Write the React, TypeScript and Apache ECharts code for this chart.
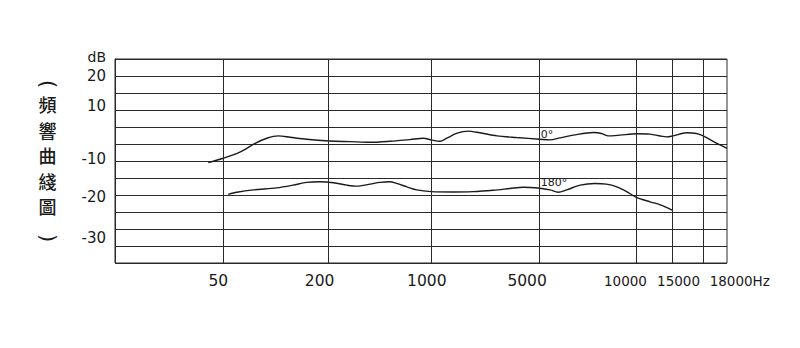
import React, { useEffect, useRef } from 'react';
import * as echarts from 'echarts';

// ---- data ----
// x axis: position along the (non-linear) frequency scale, 0..100 across the plot
const freqLabels = ['50', '200', '1000', '5000', '10000', '15000', '18000Hz'];
const freqGridPos = [17.7, 34.9, 51.6, 69.3, 85.2, 91.1, 96.2];

// y axis (dB), grid every 5 dB
const dbTickValues = [25, 20, 10, -5, -15, -30];
const dbTickLabels = ['dB', '20', '10', '-10', '-20', '-30'];

const curve0Pos = [15.25, 17.7, 20.4, 22.9, 24.8, 26.7, 28.6, 31.3, 35.0, 38.4, 41.7, 44.9, 48.2, 50.4, 51.7, 53.1, 54.2, 55.8, 57.7, 59.6, 62.4, 65.6, 69.4, 71.1, 72.7, 74.9, 78.2, 79.5, 80.6, 82.5, 85.2, 87.4, 90.1, 91.2, 93.4, 95.0, 96.1, 97.8, 100];
const curve0Db = [-5.5, -4.2, -2.4, 0.2, 1.7, 2.4, 2.0, 1.4, 0.9, 0.7, 0.5, 0.8, 1.3, 1.7, 1.2, 0.8, 1.7, 3.1, 3.8, 3.3, 2.4, 1.9, 1.4, 1.2, 1.8, 2.6, 3.4, 3.1, 2.4, 2.6, 3.0, 2.9, 2.1, 2.4, 3.3, 3.1, 2.4, 0.7, -1.3];

const curve180Pos = [18.5, 19.9, 22.6, 26.4, 29.1, 31.3, 33.5, 35.7, 37.9, 39.5, 41.7, 43.3, 44.9, 46.0, 47.7, 49.3, 51.7, 55.3, 58.5, 61.8, 64.5, 66.7, 69.4, 71.1, 72.4, 73.8, 76.0, 78.4, 80.3, 82.0, 83.6, 85.2, 87.4, 89.1, 91.1];
const curve180Db = [-14.8, -14.2, -13.5, -12.9, -12.1, -11.3, -11.1, -11.4, -12.1, -12.4, -11.8, -11.3, -11.1, -11.6, -12.6, -13.5, -14.0, -14.1, -14.0, -13.6, -13.1, -12.7, -13.0, -13.5, -14.2, -13.5, -12.1, -11.6, -11.8, -12.6, -14.0, -15.7, -17.0, -17.9, -19.5];

const curveNames = ['0°', '180°'];
const curveLabelIndex = 22;
const sideTitleChars = ['頻', '響', '曲', '綫', '圖'];

// ---- layout / style ----
const INK = '#1a1a1a';
const GRID_INK = '#2a2a2a';
const xLabelShiftPx = [-5, -9, -4, -12, -11, 6, 36];
const xLabelSize = [15.5, 15.5, 15.5, 15.5, 13.5, 13.5, 13.5];
const yLabelShiftUpPx = [2, 0, 4, 2, -2, 8];

function buildData(pos: number[], db: number[], name: string) {
  return pos.map((x, i) => {
    if (i === curveLabelIndex) {
      return {
        value: [x, db[i]],
        label: {
          show: true,
          formatter: name,
          position: 'top',
          align: 'left',
          distance: 0,
          offset: [1, name === '0°' ? 1 : 0],
          fontSize: 11,
          fontFamily: 'DejaVu Sans',
          color: INK,
        },
      };
    }
    return [x, db[i]];
  });
}

export default function App() {
  const ref = useRef<HTMLDivElement>(null);

  useEffect(() => {
    if (!ref.current) return;
    const chart = echarts.init(ref.current, undefined, { renderer: 'svg' });

    const rich: Record<string, any> = {};
    dbTickLabels.forEach((_, i) => {
      const s = yLabelShiftUpPx[i];
      rich['y' + i] = {
        fontSize: i === 0 ? 14 : 15,
        fontFamily: 'DejaVu Sans',
        color: INK,
        padding: s >= 0 ? [0, 0, 2 * s, 0] : [-2 * s, 0, 0, 0],
      };
    });

    const markLineData = freqGridPos.map((x, i) => {
      const s = xLabelShiftPx[i];
      return {
        xAxis: x,
        label: {
          formatter: freqLabels[i],
          fontSize: xLabelSize[i],
          distance: xLabelSize[i] > 14 ? 9.5 : 10.5,
          padding: s >= 0 ? [0, 0, 0, 2 * s] : [0, -2 * s, 0, 0],
        },
      };
    });

    const lineCommon = {
      type: 'line',
      smooth: 0.3,
      symbol: 'circle',
      symbolSize: 0,
      showSymbol: true,
      showAllSymbol: true,
      lineStyle: { color: INK, width: 1.4 },
      itemStyle: { color: INK },
      emphasis: { disabled: true },
      silent: true,
    };

    chart.setOption({
      animation: false,
      backgroundColor: '#fff',
      grid: {
        left: 115,
        top: 59,
        width: 612,
        height: 204,
        show: true,
        borderColor: GRID_INK,
        borderWidth: 1,
        containLabel: false,
        outerBoundsMode: 'none',
      },
      xAxis: {
        type: 'value',
        min: 0,
        max: 100,
        axisLine: { show: false },
        axisTick: { show: false },
        axisLabel: { show: false },
        splitLine: { show: false },
      },
      yAxis: {
        type: 'value',
        min: -35,
        max: 25,
        interval: 5,
        axisLine: { show: true, lineStyle: { color: GRID_INK, width: 1 } },
        axisTick: { show: false },
        splitLine: { show: true, lineStyle: { color: GRID_INK, width: 1 } },
        axisLabel: {
          margin: 9,
          formatter: (v: number) => {
            const i = dbTickValues.indexOf(v);
            return i >= 0 ? `{y${i}|${dbTickLabels[i]}}` : '';
          },
          rich,
        },
      },
      graphic: [
        {
          type: 'text',
          x: 47.5,
          y: 155,
          style: {
            text: sideTitleChars.join('\n'),
            fontSize: 18,
            fontWeight: 500,
            lineHeight: 25.5,
            fontFamily: 'Noto Sans CJK TC',
            fill: INK,
            align: 'center',
            verticalAlign: 'middle',
          },
        },
        {
          type: 'text',
          x: 47.5,
          y: 84,
          rotation: -Math.PI / 2,
          style: {
            text: '(',
            fontSize: 21,
            fontFamily: 'DejaVu Sans',
            fill: INK,
            align: 'center',
            verticalAlign: 'middle',
          },
        },
        {
          type: 'text',
          x: 47.5,
          y: 238,
          rotation: -Math.PI / 2,
          style: {
            text: ')',
            fontSize: 21,
            fontFamily: 'DejaVu Sans',
            fill: INK,
            align: 'center',
            verticalAlign: 'middle',
          },
        },
      ],
      series: [
        {
          ...lineCommon,
          name: curveNames[0],
          data: buildData(curve0Pos, curve0Db, curveNames[0]),
          markLine: {
            silent: true,
            symbol: ['none', 'none'],
            animation: false,
            lineStyle: { color: GRID_INK, width: 1, type: 'solid' },
            label: {
              show: true,
              position: 'start',
              color: INK,
              fontFamily: 'DejaVu Sans',
            },
            emphasis: { disabled: true },
            data: markLineData,
          },
        },
        {
          ...lineCommon,
          name: curveNames[1],
          data: buildData(curve180Pos, curve180Db, curveNames[1]),
        },
      ],
    });

    return () => chart.dispose();
  }, []);

  return (
    <div
      ref={ref}
      style={{ position: 'fixed', left: 0, top: 0, width: 800, height: 348, background: '#fff' }}
    />
  );
}
